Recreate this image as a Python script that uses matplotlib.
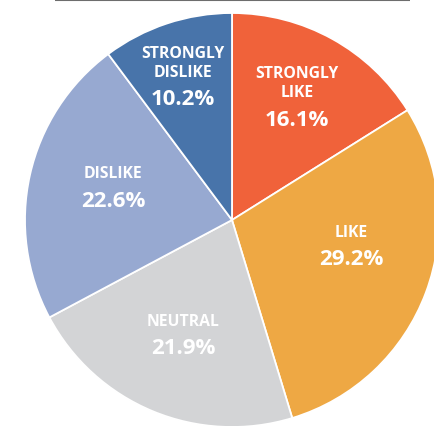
import numpy as np
import matplotlib
matplotlib.use("Agg")
from matplotlib import pyplot as plt

categories = [["STRONGLY", "LIKE"], ["LIKE"], ["NEUTRAL"], ["DISLIKE"], ["STRONGLY", "DISLIKE"]]
shares = [16.1, 29.2, 21.9, 22.6, 10.2]
colors = ["#F0623A", "#EEA844", "#D3D4D6", "#97A9D1", "#4874AA"]

# baseline of percent label for each wedge (unit radius coords)
label_pos = [(0.314, 0.459), (0.575, -0.213), (-0.235, -0.643), (-0.575, 0.068), (-0.239, 0.560)]

plt.rcParams['font.family'] = ['Open Sans', 'DejaVu Sans']

R_PX = 207.0


def main():
    fig = plt.figure(figsize=(4.34, 4.27), dpi=100)
    ax = fig.add_axes([0, 0, 1, 1])
    ax.pie(shares, colors=colors, startangle=90, counterclock=False,
           radius=1.0, wedgeprops=dict(edgecolor="white", linewidth=1.3))
    ax.set_xlim(-232 / R_PX, (434 - 232) / R_PX)
    ax.set_ylim((221 - 427) / R_PX, 221 / R_PX)
    ax.set_aspect("auto")
    ax.axis("off")

    gap = 28.5 / R_PX
    step = 19.0 / R_PX
    for cat, val, (x, y) in zip(categories, shares, label_pos):
        ax.text(x, y, "{:.1f}%".format(val), ha="center", va="baseline",
                color="white", fontsize=16, fontweight="bold")
        for i, line in enumerate(reversed(cat)):
            ax.text(x, y + gap + i * step, line, ha="center", va="baseline",
                    color="white", fontsize=11.3, fontweight="bold")

    # title underline remnant at top
    ax.plot([-0.855, 0.86], [1.062, 1.062], color="#6d6d6d", lw=1.5,
            solid_capstyle="butt", clip_on=False)

    fig.savefig("out.png", dpi=100)


if __name__ == "__main__":
    main()
